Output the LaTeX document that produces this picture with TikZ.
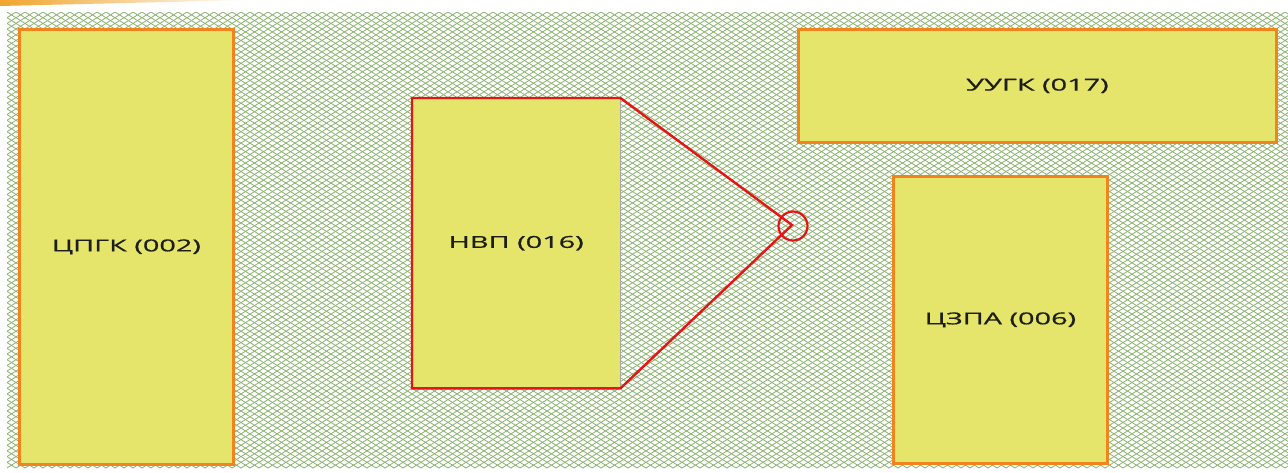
\documentclass[tikz,border=0pt]{standalone}
\usepackage{fontspec}
\setmainfont{Open Sans}
\newfontfamily\boxfont[FakeBold=0.6]{Open Sans}
\definecolor{boxfill}{RGB}{229,229,107}
\definecolor{boxedge}{RGB}{242,132,30}
\definecolor{hatch}{RGB}{140,178,112}
\definecolor{redline}{RGB}{232,20,20}
\definecolor{band}{RGB}{240,165,45}
\definecolor{txt}{RGB}{30,30,25}
\newcommand{\widetxt}[1]{\scalebox{1.75}[1]{#1}}
\begin{document}
\begin{tikzpicture}[x=1pt,y=-1pt,
  unit/.style={rectangle, fill=boxfill, draw=boxedge, line width=2.8pt, inner sep=0pt,
    text=txt, font=\boxfont\fontsize{16.5}{19}\selectfont, anchor=north west},
  plain/.style={rectangle, fill=boxfill, inner sep=0pt, text=txt,
    font=\boxfont\fontsize{16.5}{19}\selectfont, anchor=north west},
  redl/.style={draw=redline, line width=2.4pt, line join=miter}]
\useasboundingbox (0,0) rectangle (1288,472);
\fill[white] (0,0) rectangle (1288,472);
% top swoosh
\shade[left color=band, right color=white] (0,0) -- (250,0) -- (0,6) -- cycle;
% hatch background
\begin{scope}
\clip (7,12) rectangle (1288,468);
\foreach \i in {-90,...,145}{
  \draw[hatch, line width=0.8pt] ({7+\i*9},12) -- ++(720,456);
  \draw[hatch, line width=0.8pt] ({7+\i*9+720},12) -- ++(-720,456);
}
\end{scope}
% boxes
\node[unit, minimum width=214, minimum height=435] (cpgk) at (18,28) {\widetxt{ЦПГК (002)}};
\node[unit, minimum width=478, minimum height=113] (uugk) at (797,28) {\widetxt{УУГК (017)}};
\node[unit, minimum width=214, minimum height=287] (czpa) at (892,175) {\widetxt{ЦЗПА (006)}};
\node[plain, minimum width=208, minimum height=290] (nvp) at (412,98) {\raisebox{-3pt}{\widetxt{НВП (016)}}};
\draw[gray!70, line width=1.6pt] (nvp.north east) -- (nvp.south east);
\coordinate (tip) at (792,225);
\node[circle, draw=redline, line width=2.2pt, minimum size=29, inner sep=0pt] (circ) at (793,226) {};
\draw[redl] (nvp.south east) -- (nvp.south west) -- (nvp.north west) -- (nvp.north east) -- (tip) -- (nvp.south east);
\end{tikzpicture}
\end{document}
